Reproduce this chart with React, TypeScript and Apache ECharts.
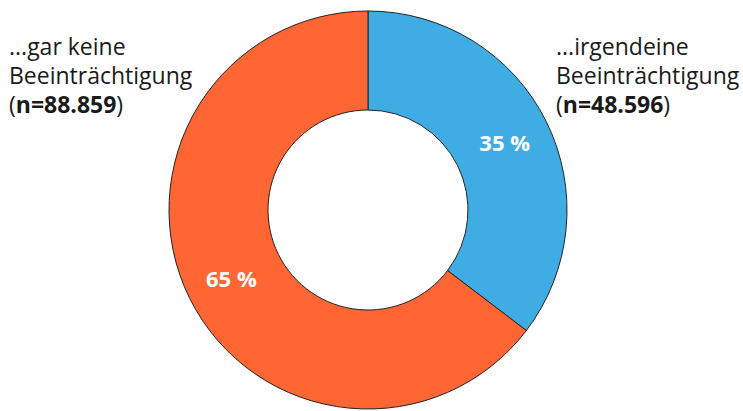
import React, { useEffect, useRef } from "react";
import * as echarts from "echarts";

const categories = ["...irgendeine Beeinträchtigung", "...gar keine Beeinträchtigung"];
const counts = [48596, 88859];
const countLabels = ["48.596", "88.859"];
const colors = ["#3FADE3", "#FF6634"];

export default function App() {
  const ref = useRef<HTMLDivElement>(null);
  useEffect(() => {
    if (!ref.current) return;
    const chart = echarts.init(ref.current, null, { renderer: "svg" });
    const font = "'Open Sans', 'Noto Sans', sans-serif";
    const fs = 23;
    const textStyle = (lines: string[], n: string) => ({
      text: `${lines.join("\n")}\n{p|(}{b|n=${n}}{p|)}`,
      font: `${fs}px ${font}`,
      fill: "#1a1a1a",
      lineHeight: 29,
      rich: {
        p: { fontSize: fs, fontFamily: font, fill: "#1a1a1a", lineHeight: 29 },
        b: { fontSize: fs, fontFamily: font, fontWeight: "bold", fill: "#1a1a1a", lineHeight: 29 },
      },
    });
    chart.setOption({
      animation: false,
      backgroundColor: "#ffffff",
      series: [
        {
          type: "pie",
          center: [368, 210],
          radius: [100, 199],
          startAngle: 90,
          clockwise: true,
          silent: true,
          data: categories.map((c, i) => ({
            name: c,
            value: counts[i],
            itemStyle: { color: colors[i] },
          })),
          itemStyle: { borderColor: "#222", borderWidth: 1 },
          label: {
            show: true,
            position: "inside",
            formatter: (p: any) => `${Math.round(p.percent)} %`,
            color: "#ffffff",
            fontFamily: font,
            fontWeight: "bold",
            fontSize: 22,
          },
          labelLine: { show: false },
        },
      ],
      graphic: [
        {
          type: "text",
          left: 9,
          top: 31,
          style: {
            ...textStyle(["...gar keine", "Beeinträchtigung"], countLabels[1]),
          },
        },
        {
          type: "text",
          left: 556,
          top: 31,
          style: {
            ...textStyle(["...irgendeine", "Beeinträchtigung"], countLabels[0]),
          },
        },
      ],
    });
    return () => chart.dispose();
  }, []);
  return (
    <div
      ref={ref}
      style={{ position: "fixed", left: 0, top: 0, width: 743, height: 411 }}
    />
  );
}
